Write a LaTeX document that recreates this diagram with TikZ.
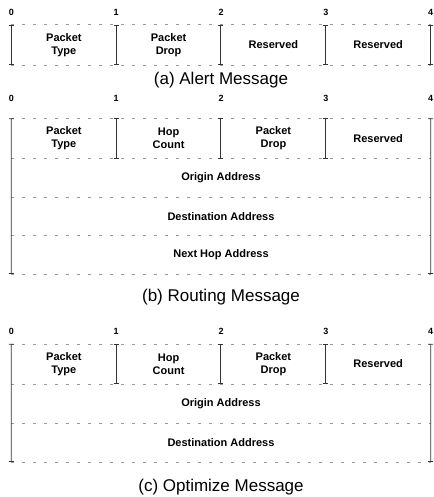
\documentclass[tikz,border=0pt]{standalone}
\usepackage{fontspec}
\setmainfont{Liberation Sans}
\usetikzlibrary{arrows.meta}

\begin{document}
\begin{tikzpicture}[x=1pt,y=-1pt,
  fld/.style={inner sep=0pt, minimum width=104.75pt, minimum height=40pt, align=center,
    font=\bfseries\fontsize{11}{13}\selectfont},
  wide/.style={inner sep=0pt, minimum width=419pt, minimum height=38.5pt, align=center,
    font=\bfseries\fontsize{11}{13}\selectfont},
  num/.style={font=\bfseries\fontsize{9}{10}\selectfont, inner sep=0pt},
  capt/.style={font=\fontsize{17}{19}\selectfont, inner sep=0pt},
  sep/.style={draw=black!80, line width=0.8pt, {Bar[width=5pt]}-{Bar[width=5pt]}},
  faint/.style={draw=black!40, line width=0.6pt, dash pattern=on 3pt off 8pt}]
\useasboundingbox (0,0) rectangle (433,497);

% (a) alert message
\foreach \i/\x in {0/11.5,1/116.25,2/221,3/325.75,4/430.5}
  \node[num] (an\i) at (\x,12) {\i};
\node[fld] (aType) at (63.9,45) {Packet\\Type};
\node[fld] (aDrop) at (168.6,45) {Packet\\Drop};
\node[fld] (aRes1) at (273.4,45) {Reserved};
\node[fld] (aRes2) at (378.1,45) {Reserved};
\draw[faint] (aType.north west) -- (aRes2.north east);
\draw[faint] (aType.south west) -- (aRes2.south east);
\foreach \f in {aType,aDrop,aRes1,aRes2}
  \draw[sep] (\f.north west) -- (\f.south west);
\draw[sep] (aRes2.north east) -- (aRes2.south east);
\node[capt] (acap) at (221,80) {(a) Alert Message};

% (b) routing message
\foreach \i/\x in {0/11.5,1/116.25,2/221,3/325.75,4/430.5}
  \node[num] (bn\i) at (\x,98) {\i};
\node[fld] (bType) at (63.9,138.5) {Packet\\Type};
\node[fld] (bHop) at (168.6,138.5) {Hop\\Count};
\node[fld] (bDrop) at (273.4,138.5) {Packet\\Drop};
\node[fld] (bRes) at (378.1,138.5) {Reserved};
\node[wide] (bOrig) at (221,178) {Origin Address};
\node[wide] (bDest) at (221,216.5) {Destination Address};
\node[wide] (bNext) at (221,254.5) {Next Hop Address};
\draw[faint] (bType.north west) -- (bRes.north east);
\draw[faint] (bOrig.north west) -- (bOrig.north east);
\draw[faint] (bDest.north west) -- (bDest.north east);
\draw[faint] (bNext.north west) -- (bNext.north east);
\draw[faint] (bNext.south west) -- (bNext.south east);
\foreach \f in {bHop,bDrop,bRes}
  \draw[sep] (\f.north west) -- (\f.south west);
\draw[sep] (bType.north west) -- (bNext.south west);
\draw[sep] (bRes.north east) -- (bNext.south east);
\node[capt] (bcap) at (221,297) {(b) Routing Message};

% (c) optimize message
\foreach \i/\x in {0/11.5,1/116.25,2/221,3/325.75,4/430.5}
  \node[num] (cn\i) at (\x,331) {\i};
\node[fld] (cType) at (63.9,364) {Packet\\Type};
\node[fld] (cHop) at (168.6,364) {Hop\\Count};
\node[fld] (cDrop) at (273.4,364) {Packet\\Drop};
\node[fld] (cRes) at (378.1,364) {Reserved};
\node[wide] (cOrig) at (221,403.5) {Origin Address};
\node[wide] (cDest) at (221,442.5) {Destination Address};
\draw[faint] (cType.north west) -- (cRes.north east);
\draw[faint] (cOrig.north west) -- (cOrig.north east);
\draw[faint] (cDest.north west) -- (cDest.north east);
\draw[faint] (cDest.south west) -- (cDest.south east);
\foreach \f in {cHop,cDrop,cRes}
  \draw[sep] (\f.north west) -- (\f.south west);
\draw[sep] (cType.north west) -- (cDest.south west);
\draw[sep] (cRes.north east) -- (cDest.south east);
\node[capt] (ccap) at (221,487) {(c) Optimize Message};
\end{tikzpicture}
\end{document}
